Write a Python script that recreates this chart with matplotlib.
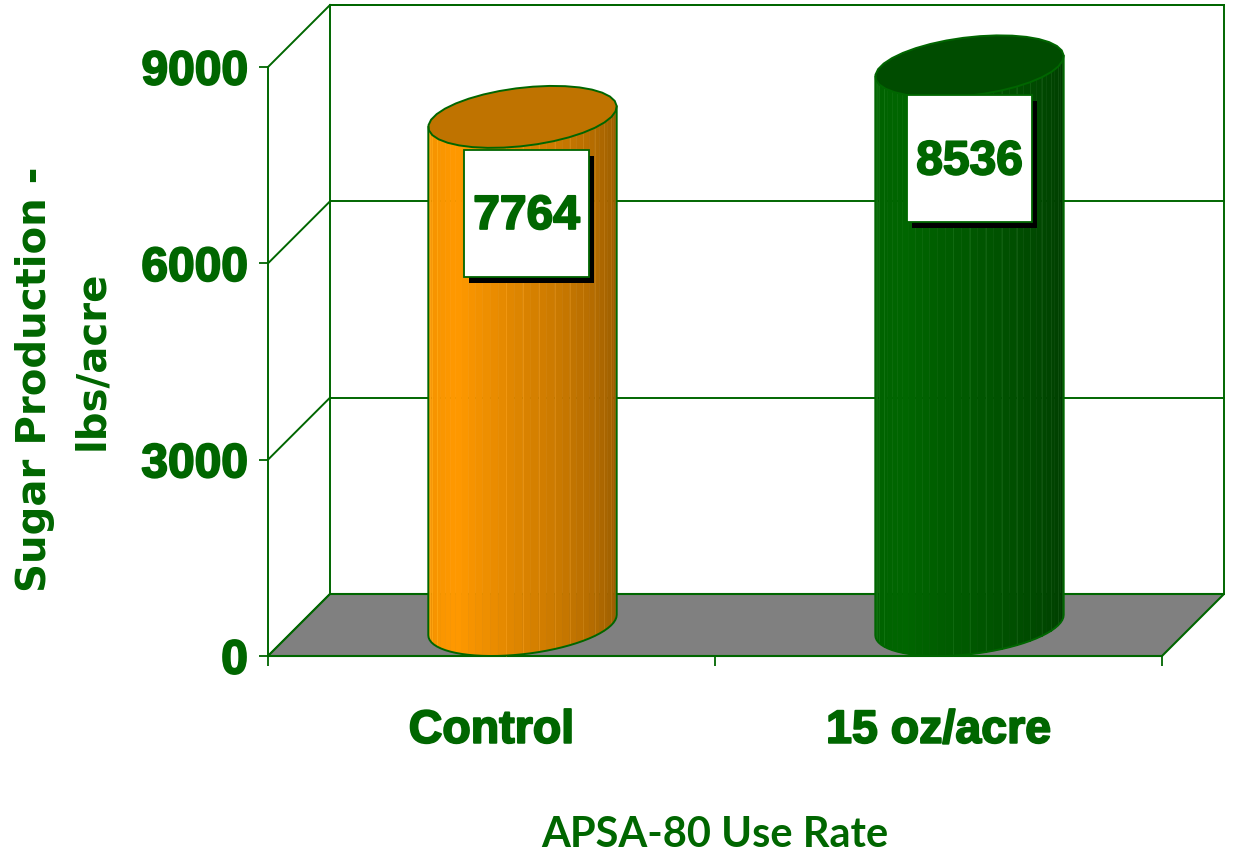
import numpy as np
import matplotlib
matplotlib.use('Agg')
import matplotlib.pyplot as plt
import matplotlib.patheffects as pe
from matplotlib.patches import Polygon, Rectangle
from matplotlib.colors import to_rgb

# values
categories = ['Control', '15 oz/acre']
sugar = [7764, 8536]
y_ticks = [0, 3000, 6000, 9000]
bar_colors = ['#FF9900', '#006600']
top_colors = ['#BF7300', '#004C00']

GREEN = '#006600'
W, H = 1235, 860
heavy = [pe.withStroke(linewidth=1.4, foreground=GREEN)]

fig = plt.figure(figsize=(W / 100, H / 100), dpi=100, facecolor='white')
# front plane of the 3D box
ax = fig.add_axes([268 / W, 1 - 656 / H, 894 / W, 589 / H])
ax.set_xlim(0, 2)
ax.set_ylim(0, 9000)
ax.patch.set_visible(False)

# depth of the box in data units (62 px each way)
dx = 62 / 447
dy = 62 * 9000 / 589

# back wall, floor, grid
ax.add_patch(Rectangle((dx, dy), 2, 9000, fc='white', ec=GREEN, lw=1.4, clip_on=False, zorder=1))
ax.add_patch(Polygon([(0, 0), (2, 0), (2 + dx, dy), (dx, dy)], fc='#808080', ec=GREEN, lw=1.5,
                     clip_on=False, zorder=1.5))
for v in y_ticks:
    ax.plot([0, dx], [v, v + dy], color=GREEN, lw=1.4, clip_on=False, zorder=1.2)
    ax.plot([dx, 2 + dx], [v + dy, v + dy], color=GREEN, lw=1.4, clip_on=False, zorder=1.2)


def shade(base, frac):
    # lit a little left of centre, falls off to the right
    r = np.array(to_rgb(base))
    if frac < 0.25:
        k = 0.94 + 0.06 * frac / 0.25
    else:
        k = 1.0 - 0.42 * (frac - 0.25) / 0.75
    return tuple(r * k)


def draw_cylinder(xc, value, base, top):
    half_w = 0.199
    half_dx = dx / 2
    half_dy = dy / 2
    cx = xc + half_dx
    cy = half_dy
    a = np.arctan2(half_dx, half_w)
    t = np.linspace(np.pi + a, 2 * np.pi + a, 37)
    ex = cx + half_w * np.cos(t) + half_dx * np.sin(t)
    ey = half_dy * np.sin(t)
    n = len(t) - 1
    for i in range(n):
        pts = [(ex[i], cy + ey[i]), (ex[i + 1], cy + ey[i + 1]),
               (ex[i + 1], cy + value + ey[i + 1]), (ex[i], cy + value + ey[i])]
        col = shade(base, i / (n - 1))
        ax.add_patch(Polygon(pts, fc=col, ec=col, lw=0.4, clip_on=False, zorder=3))
        if i in (1, 2, 3, 5) or i > 15 and i % 2 == 0:
            light = tuple(min(1, c + 0.07) for c in col)
            ax.plot([ex[i], ex[i]], [cy + ey[i], cy + value + ey[i]], color=light, lw=0.6,
                    clip_on=False, zorder=3.1)
    # outline of sides and bottom
    ox = [ex[0]] + list(ex) + [ex[-1]]
    oy = [cy + value + ey[0]] + list(cy + ey) + [cy + value + ey[-1]]
    ax.plot(ox, oy, color=GREEN, lw=1.4, clip_on=False, zorder=3.2)
    # top ellipse
    t2 = np.linspace(0, 2 * np.pi, 36)
    tx = cx + half_w * np.cos(t2) + half_dx * np.sin(t2)
    ty = cy + value + half_dy * np.sin(t2)
    ax.add_patch(Polygon(np.column_stack([tx, ty]), fc=top, ec=GREEN, lw=1.4, clip_on=False, zorder=3.3))


def draw_label(xc, yc, text):
    bw, bh = 125 / 447, 127 * 9000 / 589
    sx, sy = 5 / 447, 6 * 9000 / 589
    ax.add_patch(Rectangle((xc - bw / 2 + sx, yc - bh / 2 - sy), bw, bh, fc='black', ec='none',
                           clip_on=False, zorder=4))
    ax.add_patch(Rectangle((xc - bw / 2, yc - bh / 2), bw, bh, fc='white', ec=GREEN, lw=1.3,
                           clip_on=False, zorder=4.1))
    ax.text(xc, yc - 3 * 9000 / 589, text, ha='center', va='center', fontsize=34.5, fontweight='bold',
            family='Liberation Sans', color=GREEN, zorder=5, path_effects=heavy)


label_dx = [0.009, 0.0]
label_dy = [96.5, 92.5]
for i, (cat, val) in enumerate(zip(categories, sugar)):
    draw_cylinder(i + 0.5, val, bar_colors[i], top_colors[i])
    lx = i + 0.5 + dx / 2 + label_dx[i]
    ly = dy / 2 + val - label_dy[i] * 9000 / 589
    draw_label(lx, ly, str(val))

# axes furniture
for side in ['top', 'right']:
    ax.spines[side].set_visible(False)
for side in ['left', 'bottom']:
    ax.spines[side].set_color(GREEN)
    ax.spines[side].set_linewidth(1.4)
    ax.spines[side].set_zorder(2)

ax.set_yticks(y_ticks)
ax.set_yticklabels([str(v) for v in y_ticks], fontsize=34.5, fontweight='bold',
                   family='Liberation Sans', color=GREEN, path_effects=heavy)
ax.tick_params(axis='y', length=6.5, width=1.3, color=GREEN, pad=8)
ax.set_xticks([0, 1, 2])
ax.set_xticklabels([])
ax.tick_params(axis='x', which='major', length=7.5, width=1.3, color=GREEN)
ax.set_xticks([0.5, 1.5], minor=True)
ax.set_xticklabels(categories, minor=True, fontsize=33.5, fontweight='bold',
                   family='Liberation Sans', color=GREEN, path_effects=heavy)
ax.tick_params(axis='x', which='minor', length=0, pad=38)

# axis titles
fig.text(35 / W, 1 - 379 / H, 'Sugar Production -', rotation=90, ha='center', va='center',
         fontsize=29, fontweight='bold', family='DejaVu Sans', color=GREEN)
fig.text(92 / W, 1 - 360 / H, 'lbs/acre', rotation=90, ha='center', va='center',
         fontsize=29, fontweight='bold', family='DejaVu Sans', color=GREEN)
fig.text(715 / W, 1 - 835 / H, 'APSA-80 Use Rate', ha='center', va='center',
         fontsize=30, fontweight='bold', family='Lato', color=GREEN)

fig.savefig('out.png', dpi=100)
